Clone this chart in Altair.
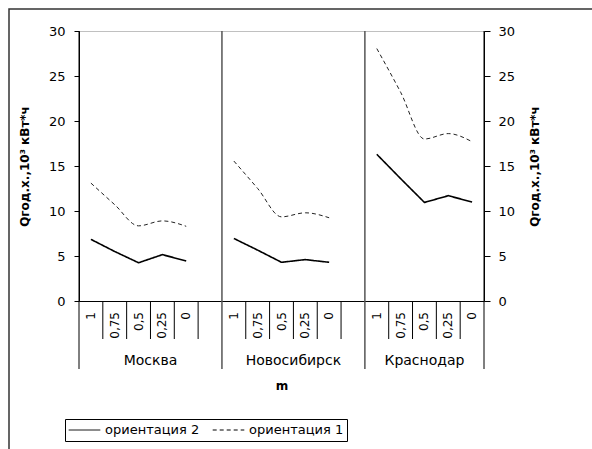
import altair as alt
import pandas as pd

# ---- data ----
groups = ["Москва", "Новосибирск", "Краснодар"]
m_labels = ["1", "0,75", "0,5", "0,25", "0"]
slots_per_group = [6, 6, 5]          # 5 values + one empty slot (last group has none)

moscow_o2 = [6.85, 5.5, 4.25, 5.15, 4.45]
moscow_o1 = [13.1, 10.7, 8.35, 8.9, 8.3]
novosib_o2 = [6.95, 5.65, 4.3, 4.6, 4.3]
novosib_o1 = [15.55, 12.5, 9.35, 9.8, 9.25]
krasnodar_o2 = [16.3, 13.6, 10.95, 11.7, 11.0]
krasnodar_o1 = [28.05, 23.2, 18.0, 18.6, 17.7]

series_names = ["ориентация 2", "ориентация 1"]
y_ticks = [0, 5, 10, 15, 20, 25, 30]
y_title = "Qгод.х.,10³ кВт*ч"

o2_by_group = [moscow_o2, novosib_o2, krasnodar_o2]
o1_by_group = [moscow_o1, novosib_o1, krasnodar_o1]

# ---- build tables ----
starts = []
s = 0
for n in slots_per_group:
    starts.append(s)
    s += n
total_slots = s

rows, cat_rows, div_rows, grp_rows, sep_rows = [], [], [], [], []
for g, name in enumerate(groups):
    st = starts[g]
    for i, m in enumerate(m_labels):
        pos = st + i + 0.5
        rows.append({"group": name, "pos": pos, "series": series_names[0], "value": o2_by_group[g][i]})
        rows.append({"group": name, "pos": pos, "series": series_names[1], "value": o1_by_group[g][i]})
        cat_rows.append({"pos": pos, "m": m})
    for k in range(1, slots_per_group[g]):
        div_rows.append({"pos": st + k})
    grp_rows.append({"pos": st + slots_per_group[g] / 2, "name": name})
    if g > 0:
        sep_rows.append({"pos": st})
edge_rows = [{"pos": 0}, {"pos": total_slots}]

long_df = pd.DataFrame(rows)
cat_df = pd.DataFrame(cat_rows)
div_df = pd.DataFrame(div_rows)
grp_df = pd.DataFrame(grp_rows)
sep_df = pd.DataFrame(sep_rows)
edge_df = pd.DataFrame(edge_rows)

FONT = "DejaVu Sans"

x_axis = alt.Axis(labels=False, ticks=False, grid=False, domain=True, domainColor="black",
                  title="m", titleFontWeight="bold", titleFontSize=12, titlePadding=79,
                  titleFont=FONT, titleColor="black")
xenc = alt.X("pos:Q", scale=alt.Scale(domain=[0, total_slots], nice=False, zero=False), axis=x_axis)

yscale = alt.Scale(domain=[0, 30], nice=False, zero=True)
left_axis = alt.Axis(values=y_ticks, tickSize=5, labelPadding=9, grid=False,
                     domainColor="black", tickColor="black", labelColor="black",
                     labelFont=FONT, labelFontSize=13,
                     title=y_title, titleFont=FONT, titleFontSize=12, titleFontWeight="bold",
                     titleColor="black", titleAngle=270, titleAlign="center",
                     titleBaseline="middle", titleX=-55, titleY=135)
right_axis = alt.Axis(orient="right", values=y_ticks, tickSize=6, labelPadding=8, grid=False,
                      domainColor="black", tickColor="black", labelColor="black",
                      labelFont=FONT, labelFontSize=13,
                      title=y_title, titleFont=FONT, titleFontSize=12, titleFontWeight="bold",
                      titleColor="black", titleAngle=270, titleAlign="center",
                      titleBaseline="middle", titleX=50, titleY=135)

dash_scale = alt.Scale(domain=series_names, range=[[1, 0], [4, 3]])
legend = alt.Legend(title=None, orient="none", legendX=-14, legendY=388, direction="horizontal",
                    strokeColor="black", fillColor="white", padding=3, symbolType="stroke",
                    symbolSize=1000, clipHeight=16, symbolStrokeColor="black", symbolStrokeWidth=1,
                    labelFont=FONT, labelFontSize=13, labelColor="black", labelOffset=4,
                    columnPadding=12)

border = alt.Chart(pd.DataFrame({"a": [0]})).mark_rect(
    filled=False, stroke="#333333", strokeWidth=1.5
).encode(x=alt.value(-70), x2=alt.value(620), y=alt.value(-22), y2=alt.value(520))

short_div = alt.Chart(div_df).mark_rule(color="black", strokeWidth=1).encode(
    x=xenc, y=alt.value(270), y2=alt.value(308))
separators = alt.Chart(sep_df).mark_rule(color="#555555", strokeWidth=1.5).encode(
    x=xenc, y=alt.value(0), y2=alt.value(338))
edges = alt.Chart(edge_df).mark_rule(color="black", strokeWidth=1).encode(
    x=xenc, y=alt.value(0), y2=alt.value(338))

solid = alt.Chart(long_df).transform_filter(alt.datum.series == series_names[0]).mark_line(
    color="black", strokeWidth=1.6
).encode(
    x=xenc,
    y=alt.Y("value:Q", scale=yscale, axis=left_axis),
    detail="group:N",
    strokeDash=alt.StrokeDash("series:N", scale=dash_scale, legend=legend),
)
dashed = alt.Chart(long_df).transform_filter(alt.datum.series == series_names[1]).mark_line(
    color="#222222", strokeWidth=1, interpolate="monotone"
).encode(
    x=xenc,
    y=alt.Y("value:Q", scale=yscale, axis=right_axis),
    detail="group:N",
    strokeDash=alt.StrokeDash("series:N", scale=dash_scale, legend=legend),
)

cat_text = alt.Chart(cat_df).mark_text(
    angle=270, align="right", baseline="middle", font=FONT, fontSize=12, color="black"
).encode(x=xenc, y=alt.value(281), text="m:N")

grp_text = alt.Chart(grp_df).mark_text(
    align="center", baseline="middle", font=FONT, fontSize=14, color="black"
).encode(x=xenc, y=alt.value(330), text="name:N")

chart = alt.layer(
    border, short_div, separators, edges, solid, dashed, cat_text, grp_text
).resolve_scale(y="independent").properties(
    width=405, height=270,
    padding={"left": 79, "top": 31, "right": 108, "bottom": 148},
    autosize=alt.AutoSizeParams(type="none"),
    background="white",
).configure_view(stroke="#c0c0c0", strokeWidth=1)

chart.save("out.html", embed_options={"renderer": "svg", "actions": False})
